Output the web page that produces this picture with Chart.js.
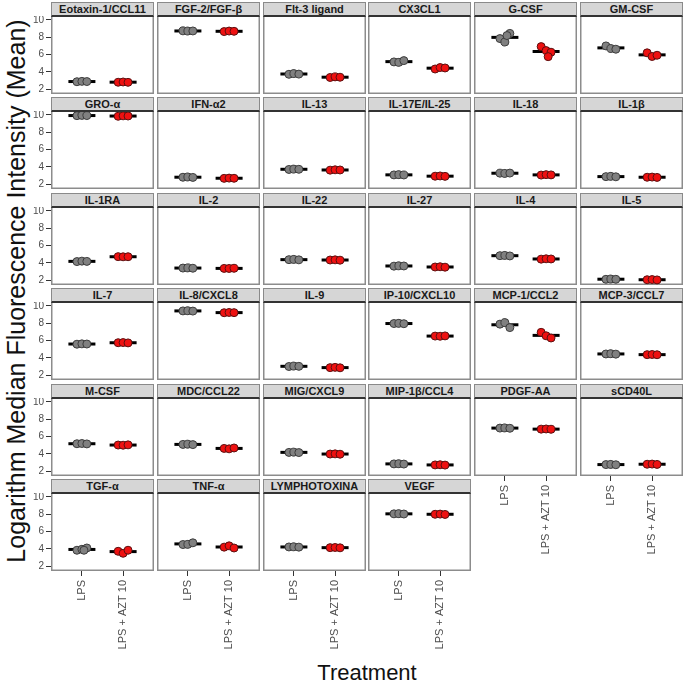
<!DOCTYPE html>
<html>
<head>
<meta charset="utf-8">
<script src="https://cdn.jsdelivr.net/npm/chart.js@4.4.0/dist/chart.umd.min.js"></script>
<style>
  body { margin: 0; background: #fff; width: 685px; height: 683px; position: relative; overflow: hidden;
         font-family: "Liberation Sans", Arial, sans-serif; }
  canvas { position: absolute; }
  .strip { position: absolute; box-sizing: border-box; background: #d6d6d6; border: 1px solid #8a8a8a;
           border-bottom: 2px solid #333; font-weight: bold; font-size: 11px; line-height: 12px;
           text-align: center; color: #1a1a1a; white-space: nowrap; overflow: hidden; }
  #ytitle { position: absolute; left: 16px; top: 291px; transform: translate(-50%, -50%) rotate(-90deg);
            white-space: nowrap; font-size: 25px; color: #111; }
  #xtitle { position: absolute; left: 367px; top: 662px; transform: translateX(-50%);
            white-space: nowrap; font-size: 22px; line-height: 22px; color: #111; }
</style>
</head>
<body>
<div id="ytitle">Logarithm Median Fluorescence Intensity (Mean)</div>
<div id="xtitle">Treatment</div>
<script>
const groups = ['LPS', 'LPS + AZT 10'];
const yTicks = [2, 4, 6, 8, 10];

const panels = [
  'Eotaxin-1/CCL11', 'FGF-2/FGF-β', 'Flt-3 ligand', 'CX3CL1', 'G-CSF', 'GM-CSF',
  'GRO-α', 'IFN-α2', 'IL-13', 'IL-17E/IL-25', 'IL-18', 'IL-1β',
  'IL-1RA', 'IL-2', 'IL-22', 'IL-27', 'IL-4', 'IL-5',
  'IL-7', 'IL-8/CXCL8', 'IL-9', 'IP-10/CXCL10', 'MCP-1/CCL2', 'MCP-3/CCL7',
  'M-CSF', 'MDC/CCL22', 'MIG/CXCL9', 'MIP-1β/CCL4', 'PDGF-AA', 'sCD40L',
  'TGF-α', 'TNF-α', 'LYMPHOTOXINA', 'VEGF'
];

// log MFI per replicate, LPS group
const lpsValues = [
  [2.86, 2.90, 2.88], [8.74, 8.72, 8.73], [3.72, 3.80, 3.74], [5.15, 5.10, 5.30], [7.85, 7.45, 8.45, 8.20], [7.00, 6.70, 6.62],
  [9.92, 9.95, 9.93], [2.80, 2.83, 2.78], [3.70, 3.74, 3.72], [3.07, 3.10, 3.06], [3.27, 3.24, 3.28], [2.87, 2.90, 2.85],
  [4.15, 4.20, 4.17], [3.40, 3.42, 3.38], [4.37, 4.40, 4.35], [3.62, 3.66, 3.64], [4.83, 4.86, 4.80], [2.10, 2.13, 2.10],
  [5.58, 5.62, 5.60], [9.43, 9.45, 9.41], [3.00, 3.05, 3.02], [7.97, 7.99, 7.95], [7.90, 8.08, 7.50], [4.45, 4.48, 4.43],
  [5.17, 5.20, 5.15], [5.09, 5.12, 5.07], [4.17, 4.20, 4.15], [2.84, 2.86, 2.82], [6.98, 7.00, 6.96], [2.76, 2.78, 2.74],
  [3.84, 3.95, 4.10, 3.84], [4.50, 4.52, 4.70], [4.22, 4.24, 4.20], [8.05, 8.07, 8.03]
];

// log MFI per replicate, LPS + AZT 10 group
const aztValues = [
  [2.80, 2.83, 2.79], [8.66, 8.72, 8.69], [3.35, 3.42, 3.38], [4.33, 4.50, 4.45], [6.92, 6.46, 6.27, 5.76], [6.20, 5.78, 5.92],
  [9.85, 9.90, 9.88], [2.67, 2.70, 2.68], [3.62, 3.66, 3.64], [2.92, 2.95, 2.90], [3.05, 3.10, 3.07], [2.80, 2.82, 2.78],
  [4.72, 4.70, 4.71], [3.36, 3.35, 3.37], [4.33, 4.35, 4.31], [3.52, 3.55, 3.50], [4.43, 4.47, 4.45], [2.05, 2.07, 2.03],
  [5.75, 5.77, 5.73], [9.22, 9.25, 9.23], [2.87, 2.90, 2.85], [6.52, 6.50, 6.54], [6.95, 6.55, 6.30], [4.37, 4.39, 4.36],
  [5.02, 5.00, 5.04], [4.63, 4.58, 4.68], [3.98, 4.00, 3.96], [2.72, 2.74, 2.70], [6.86, 6.88, 6.84], [2.80, 2.82, 2.78],
  [3.72, 3.49, 3.84], [4.20, 4.35, 4.10], [4.14, 4.16, 4.12], [8.00, 8.02, 7.98]
];

// horizontal spread of the replicate dots
const jitter = [-0.12, 0.0, 0.12, 0.05];

Chart.defaults.font.family = '"Liberation Sans", Arial, sans-serif';

const mean = a => a.reduce((s, v) => s + v, 0) / a.length;

const frame = {
  id: 'frame',
  beforeDatasetsDraw(chart) {
    const a = chart.chartArea, g = chart.ctx;
    g.save();
    g.strokeStyle = '#8c8c8c';
    g.lineWidth = 1.5;
    g.strokeRect(a.left + 0.75, a.top, a.right - a.left - 1.5, a.bottom - a.top - 0.75);
    g.restore();
  }
};

// no label overflow padding, so every plot area has the same size
const noPad = s => { s.paddingTop = 0; s.paddingBottom = 0; s.paddingLeft = 0; s.paddingRight = 0; };

const L0 = 51, PW = 103, PX = 105.8, T0 = 2, PY = 95.4, SH = 14, PH = 78;

panels.forEach((name, i) => {
  const r = Math.floor(i / 6), c = i % 6;
  const left = Math.round(L0 + PX * c), top = Math.round(T0 + PY * r);
  const bottom = r === 5 || (r === 4 && c >= 4);
  const yw = c === 0 ? left : 0;
  const xh = bottom ? 80 : 0;

  const cv = document.createElement('canvas');
  cv.width = PW + yw;
  cv.height = PH + xh;
  cv.style.left = (left - yw) + 'px';
  cv.style.top = (top + SH) + 'px';
  document.body.appendChild(cv);

  const strip = document.createElement('div');
  strip.className = 'strip';
  strip.style.left = left + 'px';
  strip.style.top = top + 'px';
  strip.style.width = PW + 'px';
  strip.style.height = (SH + 1) + 'px';
  strip.textContent = name;
  document.body.appendChild(strip);

  new Chart(cv, {
    type: 'scatter',
    data: {
      datasets: [
        {
          data: lpsValues[i].map((v, k) => ({ x: 0 + jitter[k], y: v })),
          backgroundColor: '#808080', borderColor: '#3c3c3c', borderWidth: 1,
          pointRadius: 4, order: 1
        },
        {
          data: aztValues[i].map((v, k) => ({ x: 1 + jitter[k], y: v })),
          backgroundColor: '#ee1111', borderColor: '#5a1010', borderWidth: 1,
          pointRadius: 4, order: 1
        },
        {
          data: [{ x: 0, y: mean(lpsValues[i]) }, { x: 1, y: mean(aztValues[i]) }],
          pointStyle: 'line', pointRadius: 13.5, borderColor: '#000', borderWidth: 3, order: 2
        }
      ]
    },
    options: {
      responsive: false,
      animation: false,
      devicePixelRatio: 1,
      layout: { padding: 0, autoPadding: false },
      plugins: { legend: { display: false }, tooltip: { enabled: false } },
      scales: {
        x: {
          type: 'linear', min: -0.75, max: 1.75, display: bottom,
          afterBuildTicks: s => { s.ticks = [{ value: 0 }, { value: 1 }]; },
          afterFit: s => { s.height = xh; noPad(s); },
          grid: { drawOnChartArea: false, tickLength: 5, color: '#333' },
          border: { display: false },
          ticks: {
            callback: v => groups[v], autoSkip: false, minRotation: 90, maxRotation: 90,
            color: '#4d4d4d', font: { size: 11 }, padding: 4
          }
        },
        y: {
          min: 1.44, max: 10.46, display: c === 0,
          afterBuildTicks: s => { s.ticks = yTicks.map(v => ({ value: v })); },
          afterFit: s => { s.width = yw; noPad(s); },
          grid: { drawOnChartArea: false, tickLength: 5, color: '#333' },
          border: { display: false },
          ticks: { color: '#4d4d4d', font: { size: 10 }, padding: 2 }
        }
      }
    },
    plugins: [frame]
  });
});
</script>
</body>
</html>
